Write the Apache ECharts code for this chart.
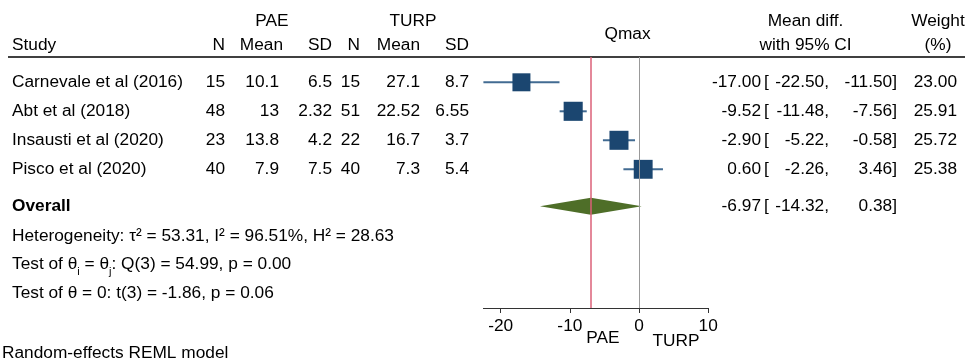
<!DOCTYPE html>
<html>
<head>
<meta charset="utf-8">
<script src="https://cdn.jsdelivr.net/npm/echarts@6/dist/echarts.min.js"></script>
<style>
  html, body { margin: 0; padding: 0; background: #fff; }
  #chart { width: 965px; height: 362px; }
</style>
</head>
<body>
<div id="chart"></div>
<script>
// Qmax: PAE vs TURP, random-effects meta-analysis
const studies   = ['Carnevale et al (2016)', 'Abt et al (2018)', 'Insausti et al (2020)', 'Pisco et al (2020)'];
const paeN      = [15, 48, 23, 40];
const paeMean   = [10.1, 13, 13.8, 7.9];
const paeSD     = [6.5, 2.32, 4.2, 7.5];
const turpN     = [15, 51, 22, 40];
const turpMean  = [27.1, 22.52, 16.7, 7.3];
const turpSD    = [8.7, 6.55, 3.7, 5.4];
const meanDiff  = [-17.00, -9.52, -2.90, 0.60];
const ciLower   = [-22.50, -11.48, -5.22, -2.26];
const ciUpper   = [-11.50, -7.56, -0.58, 3.46];
const weights   = [23.00, 25.91, 25.72, 25.38];
const overallEst   = -6.97;
const overallLower = -14.32;
const overallUpper = 0.38;
const xTicks    = [-20, -10, 0, 10];
const statLines = [
  'Heterogeneity: τ² = 53.31, I² = 96.51%, H² = 28.63',
  'Test of θ{s|i} = θ{s|j}: Q(3) = 54.99, p = 0.00',
  'Test of θ = 0: t(3) = -1.86, p = 0.06'
];

// ---- layout ----
const FONT = '"Liberation Sans", Arial, Helvetica, sans-serif';
const FS = 17.3;
const ROW_PX = 29;          // vertical distance between study rows
const FIRST_ROW_Y = 82.3;   // pixel centre of first study row
const PLOT_TOP = 57;
const PLOT_BOTTOM = 308;
const OVERALL_ROW = 4.27;   // overall row, in row units
const yMin = -(FIRST_ROW_Y - PLOT_TOP) / ROW_PX;
const yMax = (PLOT_BOTTOM - FIRST_ROW_Y) / ROW_PX;

const chart = echarts.init(document.getElementById('chart'), null, { renderer: 'canvas' });

const squareSide = w => 3.75 * Math.sqrt(w);

chart.setOption({
  animation: false,
  backgroundColor: '#fff',
  textStyle: { fontFamily: FONT },
  grid: { left: 483.4, top: PLOT_TOP, width: 224.8, height: PLOT_BOTTOM - PLOT_TOP },
  xAxis: {
    type: 'value', min: -22.5, max: 10,
    splitLine: { show: false },
    axisLine: { show: true, onZero: false, lineStyle: { color: '#333', width: 1 } },
    axisTick: { show: true, customValues: xTicks, length: 5, lineStyle: { color: '#333' } },
    axisLabel: { customValues: xTicks, fontSize: FS, color: '#000', margin: 10, fontFamily: FONT }
  },
  yAxis: { type: 'value', inverse: true, min: yMin, max: yMax, show: false },
  series: [
    {
      // no-effect reference line
      type: 'line', data: [], z: 1, silent: true,
      markLine: {
        symbol: 'none', silent: true, label: { show: false },
        lineStyle: { color: '#999', width: 1, type: 'solid' },
        data: [{ xAxis: 0 }]
      }
    },
    {
      type: 'custom', name: 'ci', z: 2, silent: true,
      data: studies.map((s, i) => [ciLower[i], ciUpper[i], i]),
      renderItem: (params, api) => {
        const a = api.coord([api.value(0), api.value(2)]);
        const b = api.coord([api.value(1), api.value(2)]);
        return { type: 'line', shape: { x1: a[0], y1: a[1], x2: b[0], y2: b[1] },
                 style: { stroke: '#426b92', lineWidth: 2 } };
      }
    },
    {
      type: 'scatter', name: 'study', z: 3, silent: true,
      symbol: 'rect',
      symbolSize: v => squareSide(v[2]),
      itemStyle: { color: '#1b4670', opacity: 1 },
      data: studies.map((s, i) => [meanDiff[i], i, weights[i]])
    },
    {
      type: 'custom', name: 'overall', z: 2, silent: true,
      data: [[overallLower, overallEst, overallUpper, OVERALL_ROW]],
      renderItem: (params, api) => {
        const row = api.value(3);
        const l = api.coord([api.value(0), row]);
        const c = api.coord([api.value(1), row]);
        const r = api.coord([api.value(2), row]);
        const h = 8.5;
        return { type: 'polygon',
                 shape: { points: [[l[0], l[1]], [c[0], c[1] - h], [r[0], r[1]], [c[0], c[1] + h]] },
                 style: { fill: '#4e6e28' } };
      }
    },
    {
      // overall estimate line
      type: 'line', data: [], z: 4, silent: true,
      markLine: {
        symbol: 'none', silent: true, label: { show: false },
        lineStyle: { color: '#db6079', width: 1.5, type: 'solid' },
        data: [{ xAxis: overallEst }]
      }
    }
  ]
});

// ---- text table ----
const rowY = r => chart.convertToPixel({ yAxisIndex: 0 }, r);
const els = [];
function txt(text, x, y, align, extra) {
  els.push({
    type: 'text', x: x, y: y, silent: true,
    style: Object.assign({ text: text, fill: '#000', font: FS + 'px ' + FONT,
                           align: align || 'left', verticalAlign: 'middle' }, extra || {})
  });
}

// column anchors (right edges unless noted)
const COL = { study: 12, n1: 225, m1: 279, sd1: 332, n2: 360, m2: 420, sd2: 469,
              est: 761, brk: 764, lo: 829, hi: 897, w: 957 };
const H1 = 21, H2 = 45;

txt('PAE', 272, H1, 'center');
txt('TURP', 413, H1, 'center');
txt('Study', COL.study, H2);
txt('N', COL.n1, H2, 'right');
txt('Mean', COL.m1 + 4, H2, 'right');
txt('SD', COL.sd1, H2, 'right');
txt('N', COL.n2, H2, 'right');
txt('Mean', COL.m2, H2, 'right');
txt('SD', COL.sd2, H2, 'right');
txt('Qmax', 627.5, 34, 'center');
txt('Mean diff.', 805.5, H1, 'center');
txt('with 95% CI', 805.5, H2, 'center');
txt('Weight', 938, H1, 'center');
txt('(%)', 938, H2, 'center');

function ciCells(y, est, lo, hi) {
  txt(est.toFixed(2), COL.est, y, 'right');
  txt('[', COL.brk, y, 'left');
  txt(lo.toFixed(2) + ',', COL.lo, y, 'right');
  txt(hi.toFixed(2) + ']', COL.hi, y, 'right');
}

studies.forEach((s, i) => {
  const y = rowY(i);
  txt(s, COL.study, y);
  txt(String(paeN[i]), COL.n1, y, 'right');
  txt(String(paeMean[i]), COL.m1, y, 'right');
  txt(String(paeSD[i]), COL.sd1, y, 'right');
  txt(String(turpN[i]), COL.n2, y, 'right');
  txt(String(turpMean[i]), COL.m2, y, 'right');
  txt(String(turpSD[i]), COL.sd2, y, 'right');
  ciCells(y, meanDiff[i], ciLower[i], ciUpper[i]);
  txt(weights[i].toFixed(2), COL.w, y, 'right');
});

const yo = rowY(OVERALL_ROW);
txt('Overall', COL.study, yo, 'left', { font: 'bold ' + FS + 'px ' + FONT });
ciCells(yo, overallEst, overallLower, overallUpper);

const statY = [236.5, 264.5, 293.5];
statLines.forEach((line, i) => {
  txt(line, COL.study, statY[i], 'left', {
    rich: { s: { fontSize: 11, fontFamily: FONT, fill: '#000', lineHeight: 25, verticalAlign: 'bottom' } }
  });
});

txt('PAE', 603, 338, 'center');
txt('TURP', 676, 341, 'center');
txt('Random-effects REML model', 2, 353, 'left');

// rule under the column headers
els.push({ type: 'line', silent: true, shape: { x1: 8, y1: PLOT_TOP, x2: 965, y2: PLOT_TOP },
           style: { stroke: '#000', lineWidth: 1.5 } });

chart.setOption({ graphic: { elements: els } });
</script>
</body>
</html>
